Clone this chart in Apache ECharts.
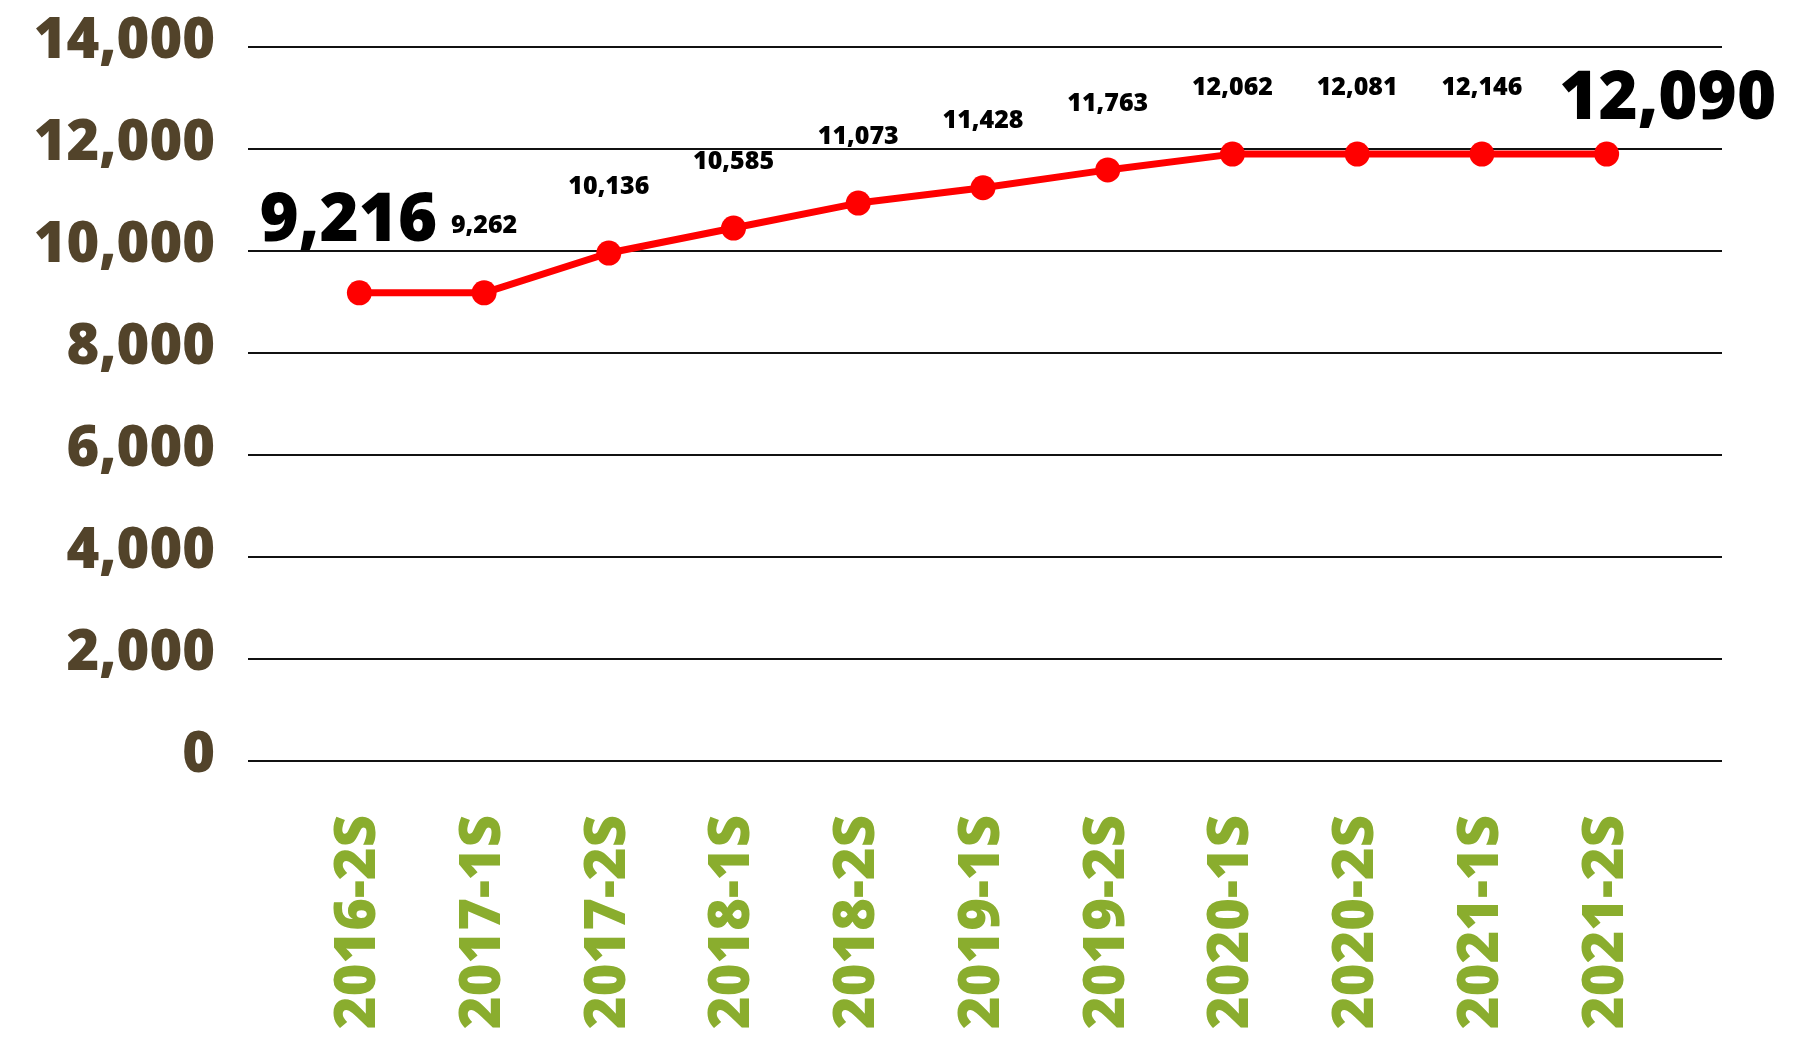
<!DOCTYPE html>
<html>
<head>
<meta charset="utf-8">
<script src="https://cdn.jsdelivr.net/npm/echarts@6/dist/echarts.min.js"></script>
<style>
html,body{margin:0;padding:0;background:#fff;}
#chart{width:1793px;height:1041px;}
</style>
</head>
<body>
<div id="chart"></div>
<script>
// ---- data ----
const categories = ['2016-2S','2017-1S','2017-2S','2018-1S','2018-2S','2019-1S','2019-2S','2020-1S','2020-2S','2021-1S','2021-2S'];
// plotted heights
const plottedValues = [9180, 9180, 9960, 10450, 10940, 11240, 11590, 11900, 11900, 11900, 11900];
// value labels printed on the chart
const labelTexts = ['9,216','9,262','10,136','10,585','11,073','11,428','11,763','12,062','12,081','12,146','12,090'];
const yTicks = [0, 2000, 4000, 6000, 8000, 10000, 12000, 14000];

// ---- styles ----
const FONT = '"Open Sans", "Noto Sans", sans-serif';
const BROWN = '#52432a';
const GREEN = '#8aad2e';
const RED = '#ff0000';

const chart = echarts.init(document.getElementById('chart'));

const yMin = yTicks[0], yMax = yTicks[yTicks.length - 1], yStep = yTicks[1] - yTicks[0];

const seriesData = plottedValues.map((v, i) => {
  const item = { value: v };
  if (i === 0) {
    item.label = { fontSize: 67, lineHeight: 67, distance: 25, offset: [-11, 0] };
  } else if (i === plottedValues.length - 1) {
    item.label = { fontSize: 67, lineHeight: 67, distance: 8, offset: [61, 0] };
  }
  return item;
});

chart.setOption({
  backgroundColor: '#ffffff',
  animation: false,
  grid: [
    { left: 248, right: 71, top: 47, bottom: 280 },
    { left: 297, right: 124, top: 47, bottom: 280 }
  ],
  xAxis: [
    { gridIndex: 0, type: 'category', data: categories, show: false },
    {
      gridIndex: 1, type: 'category', data: categories, boundaryGap: true,
      axisLine: { show: false }, axisTick: { show: false }, splitLine: { show: false },
      axisLabel: {
        rotate: 90, margin: 54, color: GREEN, fontSize: 56, fontWeight: 800,
        fontFamily: FONT, interval: 0
      }
    }
  ],
  yAxis: [
    {
      gridIndex: 0, type: 'value', min: yMin, max: yMax, interval: yStep,
      axisLine: { show: false }, axisTick: { show: false },
      splitLine: { show: true, lineStyle: { color: '#111111', width: 2 } },
      axisLabel: {
        margin: 33, color: BROWN, fontSize: 56, fontWeight: 800, fontFamily: FONT,
        verticalAlign: 'bottom', lineHeight: 10,
        formatter: v => v.toLocaleString('en-US')
      }
    },
    { gridIndex: 1, type: 'value', min: yMin, max: yMax, interval: yStep, show: false, splitLine: { show: false } }
  ],
  series: [{
    type: 'line',
    xAxisIndex: 1, yAxisIndex: 1,
    data: seriesData,
    symbol: 'circle', symbolSize: 25,
    lineStyle: { color: RED, width: 7 },
    itemStyle: { color: RED },
    label: {
      show: true, position: 'top', distance: 40,
      color: '#000', fontSize: 25, lineHeight: 28, fontWeight: 800, fontFamily: FONT,
      formatter: p => labelTexts[p.dataIndex]
    }
  }]
});
</script>
</body>
</html>
